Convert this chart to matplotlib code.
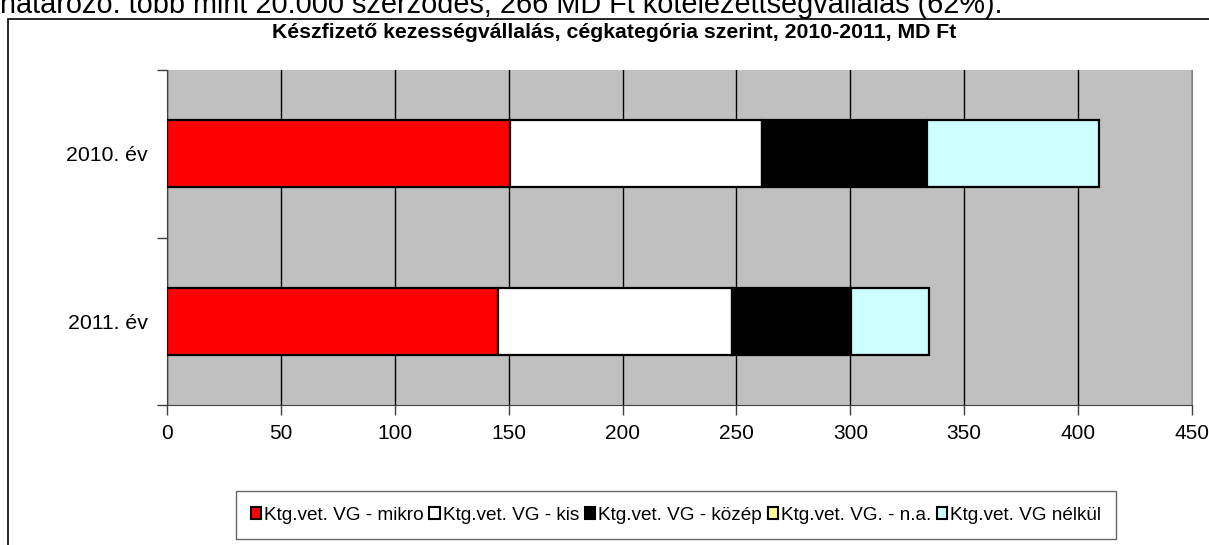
import matplotlib.pyplot as plt
from matplotlib.patches import Rectangle, Patch
import numpy as np

# Adatok (MD Ft)
evek = ['2011. év', '2010. év']
mikro = [145.3, 150.6]
kis = [102.6, 110.6]
kozep = [52.2, 72.4]
na = [0.0, 0.0]
nelkul = [34.5, 75.5]

sorozatok = ['Ktg.vet. VG - mikro', 'Ktg.vet. VG - kis', 'Ktg.vet. VG - közép',
             'Ktg.vet. VG. - n.a.', 'Ktg.vet. VG nélkül']
szinek = ['#FF0000', '#FFFFFF', '#000000', '#FFFF99', '#CCFFFF']

plt.rcParams['font.family'] = ['Liberation Sans', 'DejaVu Sans']

fig = plt.figure(figsize=(12.09, 5.45), dpi=100)

# felso, levagott szoveg (az eredeti kepen is csak az also resze latszik)
fig.text(0.0, 1 - 13 / 545, 'határozó: több mint 20.000 szerződés, 266 MD Ft kötelezettségvállalás (62%).',
         fontsize=20.8, ha='left', va='baseline')

# diagram kerete
fig.patches.append(Rectangle((8 / 1209, -0.05), 1.1, 1 - 19 / 545 + 0.05,
                             transform=fig.transFigure, fill=False,
                             edgecolor='black', linewidth=1.2))

fig.text(614 / 1209, 1 - 32 / 545, 'Készfizető kezességvállalás, cégkategória szerint, 2010-2011, MD Ft',
         fontsize=15.3, fontweight='bold', ha='center', va='center')

ax = fig.add_axes([167 / 1209, 1 - 405 / 545, (1192 - 167) / 1209, (405 - 70) / 545])
ax.set_facecolor('#C0C0C0')

y = np.array([0.5, 1.5])
bal = np.zeros(2)
for adat, nev, szin in zip([mikro, kis, kozep, na, nelkul], sorozatok, szinek):
    ax.barh(y, adat, left=bal, height=0.4, color=szin, edgecolor='black',
            linewidth=1.6, zorder=3, label=nev)
    bal = bal + np.array(adat)

ax.set_xlim(0, 450)
ax.set_ylim(0, 2)
ax.set_xticks(np.arange(0, 451, 50))
ax.xaxis.grid(True, color='black', linewidth=1.0, zorder=1)
ax.set_axisbelow(True)
ax.set_yticks([0, 1, 2])
ax.set_yticklabels([])
ax.set_yticks(y, minor=True)
ax.set_yticklabels(evek, minor=True)
ax.tick_params(axis='y', which='minor', length=0, pad=14, labelsize=15.3)
ax.tick_params(axis='y', which='major', length=7, width=1, color='#404040')
ax.tick_params(axis='x', length=7, width=1, color='#404040', labelsize=15, pad=7)
ax.spines['top'].set_visible(False)
ax.spines['right'].set_color('#808080')
ax.spines['left'].set_color('#404040')
ax.spines['bottom'].set_color('#404040')

kezelok = [Patch(facecolor=s, edgecolor='black', linewidth=1.5) for s in szinek]
leg = fig.legend(kezelok, sorozatok, loc='center', ncol=5,
                 bbox_to_anchor=(676 / 1209, 1 - 515 / 545), fontsize=13.7,
                 frameon=True, fancybox=False, edgecolor='#404040',
                 handlelength=0.55, handleheight=0.55, handletextpad=0.15,
                 columnspacing=0.3, borderpad=0.8, borderaxespad=0)
leg.get_frame().set_linewidth(1.0)

fig.savefig('out.png', dpi=100)
